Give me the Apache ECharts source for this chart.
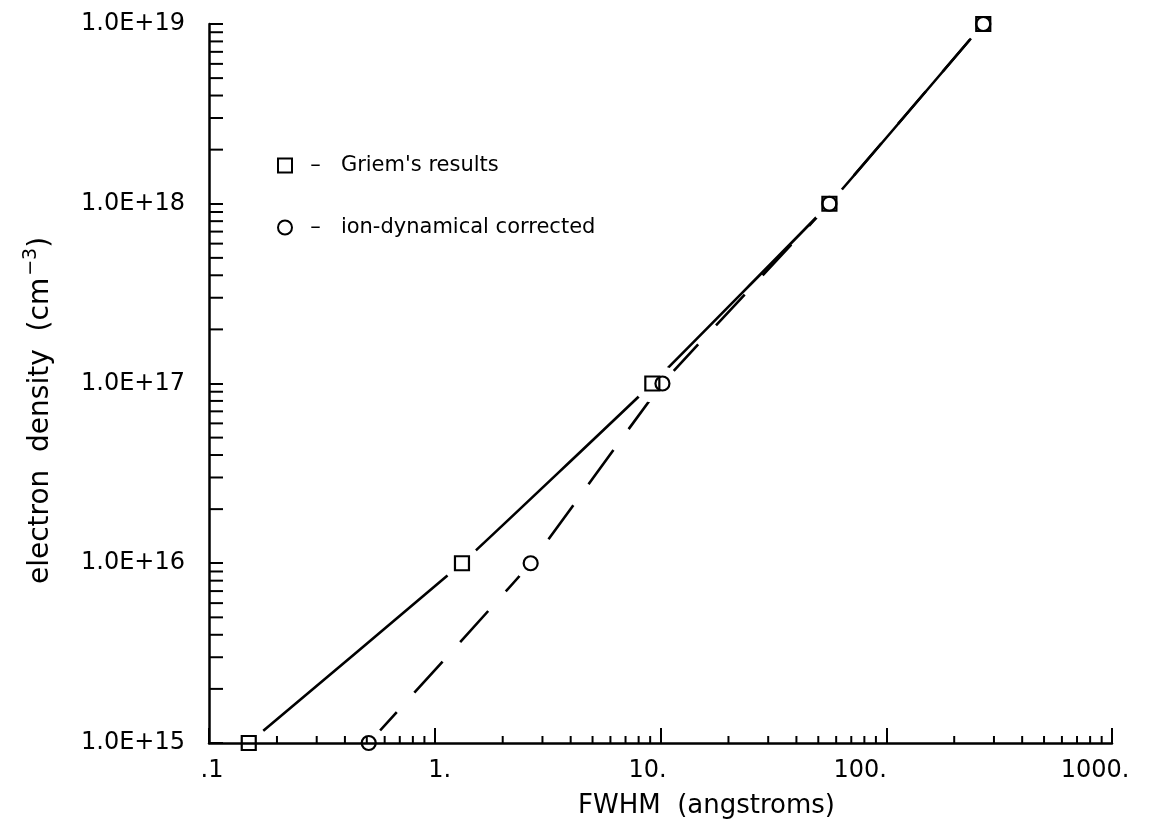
<!DOCTYPE html>
<html>
<head>
<meta charset="utf-8">
<script src="https://cdn.jsdelivr.net/npm/echarts@6/dist/echarts.min.js"></script>
<style>
html,body{margin:0;padding:0;background:#fff;}
#chart{width:1162px;height:836px;}
</style>
</head>
<body>
<div id="chart"></div>
<script>
// ---- data ----
const densities = [1e15, 1e16, 1e17, 1e18, 1e19];          // electron density (cm^-3)
const griemFwhm = [0.15, 1.32, 9.2, 56, 269];                // Griem's results (angstroms)
const correctedFwhm = [0.51, 2.66, 10.2, 56, 269];           // ion-dynamical corrected (angstroms)
const xTickValues = [0.1, 1, 10, 100, 1000];
const xTickLabels = ['.1', '1.', '10.', '100.', '1000.'];
const yTickValues = [1e15, 1e16, 1e17, 1e18, 1e19];
const yTickLabels = ['1.0E+15', '1.0E+16', '1.0E+17', '1.0E+18', '1.0E+19'];
const seriesNames = ["Griem's results", 'ion-dynamical corrected'];

// layout only: horizontal nudge (px) of each x tick label, as placed in the original plot
const xLabelShift = [3, 5, -13, -26, -17];

const FONT = 'DejaVu Sans';
const xMin = xTickValues[0], xMax = xTickValues[xTickValues.length - 1];
const yMin = yTickValues[0], yMax = yTickValues[yTickValues.length - 1];

function indexFor(values, v) {
  for (let i = 0; i < values.length; i++) {
    if (Math.abs(Math.log10(v) - Math.log10(values[i])) < 1e-6) return i;
  }
  return -1;
}

// minor tick positions (2..9 within each decade)
const xMinor = [], yMinor = [];
for (let e = Math.log10(xMin); e < Math.log10(xMax) - 0.5; e++) {
  for (let k = 2; k <= 9; k++) xMinor.push([k * Math.pow(10, e), yMin]);
}
for (let e = Math.log10(yMin); e < Math.log10(yMax) - 0.5; e++) {
  for (let k = 2; k <= 9; k++) yMinor.push([xMin, k * Math.pow(10, e)]);
}

const griemPts = griemFwhm.map((x, i) => [x, densities[i]]);
const corrPts = correctedFwhm.map((x, i) => [x, densities[i]]);

// rich styles for shifted x labels
const xRich = {};
xLabelShift.forEach((s, i) => {
  xRich['l' + i] = {
    fontFamily: FONT, fontSize: 24, color: '#000',
    padding: s >= 0 ? [0, 0, 0, 2 * s] : [0, -2 * s, 0, 0]
  };
});

const chart = echarts.init(document.getElementById('chart'), null, {renderer: 'canvas'});

function maskSeries(name, pts, size) {
  return {
    name: name,
    type: 'custom',
    data: pts,
    z: 3,
    silent: true,
    clip: false,
    renderItem: (params, api) => {
      const p = api.coord([api.value(0), api.value(1)]);
      return {type: 'circle', shape: {cx: p[0], cy: p[1], r: size / 2},
              style: {fill: '#ffffff', stroke: null}};
    }
  };
}

const option = {
  backgroundColor: '#ffffff',
  animation: false,
  textStyle: {fontFamily: FONT, color: '#000'},
  grid: {left: 209, right: 50, top: 24, bottom: 93, containLabel: false},
  legend: {
    orient: 'vertical',
    left: 272,
    top: 150,
    itemGap: 41,
    itemWidth: 14,
    itemHeight: 14,
    data: seriesNames,
    selectedMode: false,
    formatter: n => '  \u2013   ' + n,
    textStyle: {fontFamily: FONT, fontSize: 21, color: '#000'}
  },
  xAxis: {
    type: 'log',
    logBase: 10,
    min: xMin,
    max: xMax,
    z: 10,
    name: 'FWHM  (angstroms)',
    nameLocation: 'middle',
    nameGap: 50,
    nameTextStyle: {fontFamily: FONT, fontSize: 26, color: '#000', padding: [0, 0, 0, 92]},
    axisLine: {show: true, lineStyle: {color: '#000', width: 2.5}},
    axisTick: {show: true, inside: true, length: 15, lineStyle: {color: '#000', width: 2}},
    splitLine: {show: false},
    axisLabel: {
      margin: 16,
      fontFamily: FONT,
      fontSize: 24,
      color: '#000',
      rich: xRich,
      formatter: v => {
        const i = indexFor(xTickValues, v);
        return i < 0 ? '' : '{l' + i + '|' + xTickLabels[i] + '}';
      }
    }
  },
  yAxis: {
    type: 'log',
    logBase: 10,
    min: yMin,
    max: yMax,
    z: 10,
    name: '{n|electron  density  (cm}{s|\u22123}{n|)}',
    nameLocation: 'middle',
    nameGap: 150,
    nameTextStyle: {
      padding: [0, 54, 0, 0],
      rich: {
        n: {fontFamily: FONT, fontSize: 28, color: '#000'},
        s: {fontFamily: FONT, fontSize: 19, color: '#000', padding: [0, 0, 18, 2]}
      }
    },
    axisLine: {show: true, lineStyle: {color: '#000', width: 2.5}},
    axisTick: {show: true, inside: true, length: 14, lineStyle: {color: '#000', width: 2}},
    splitLine: {show: false},
    axisLabel: {
      margin: 24,
      fontFamily: FONT,
      fontSize: 24,
      color: '#000',
      formatter: v => {
        const i = indexFor(yTickValues, v);
        return i < 0 ? '' : yTickLabels[i];
      }
    }
  },
  series: [
    {
      name: 'griem-line',
      type: 'line',
      data: griemPts,
      smooth: 0.08,
      symbol: 'none',
      z: 2,
      silent: true,
      clip: false,
      lineStyle: {color: '#000', width: 2.6, type: 'solid'}
    },
    {
      name: 'corr-line',
      type: 'line',
      data: corrPts,
      smooth: 0.08,
      symbol: 'none',
      z: 2,
      silent: true,
      clip: false,
      lineStyle: {color: '#000', width: 2.6, type: [42, 26]}
    },
    maskSeries('mask-a', griemPts, 38),
    maskSeries('mask-b', corrPts, 34),
    {
      name: seriesNames[0],
      type: 'scatter',
      data: griemPts,
      symbol: 'rect',
      symbolSize: 14,
      z: 4,
      clip: false,
      itemStyle: {color: '#fff', borderColor: '#000', borderWidth: 2.2, opacity: 1}
    },
    {
      name: seriesNames[1],
      type: 'scatter',
      data: corrPts,
      symbol: 'circle',
      symbolSize: 14,
      z: 5,
      clip: false,
      itemStyle: {color: 'rgba(255,255,255,0)', borderColor: '#000', borderWidth: 2.2, opacity: 1}
    },
    {
      name: 'x-minor-ticks',
      type: 'custom',
      data: xMinor,
      z: 11,
      silent: true,
      clip: false,
      renderItem: (params, api) => {
        const p = api.coord([api.value(0), api.value(1)]);
        return {type: 'line', shape: {x1: p[0], y1: p[1], x2: p[0], y2: p[1] - 7},
                style: {stroke: '#000', lineWidth: 2}};
      }
    },
    {
      name: 'y-minor-ticks',
      type: 'custom',
      data: yMinor,
      z: 11,
      silent: true,
      clip: false,
      renderItem: (params, api) => {
        const p = api.coord([api.value(0), api.value(1)]);
        return {type: 'line', shape: {x1: p[0], y1: p[1], x2: p[0] + 14, y2: p[1]},
                style: {stroke: '#000', lineWidth: 2}};
      }
    }
  ]
};
chart.setOption(option);
</script>
</body>
</html>
